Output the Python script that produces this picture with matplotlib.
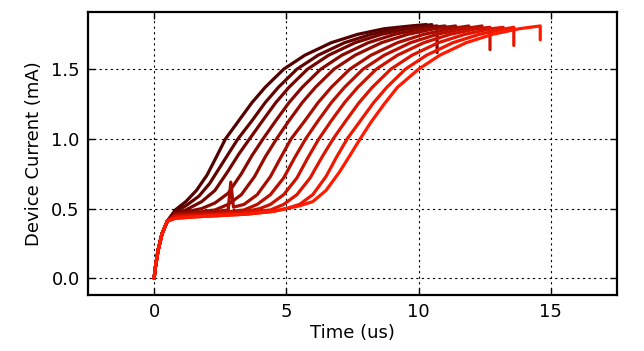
import numpy as np
import matplotlib
matplotlib.use('Agg')
import matplotlib.pyplot as plt

# common fast onset (all traces overlap here)
onset_t = [0.0, 0.05, 0.15, 0.3, 0.5]
onset_i = [0.0, 0.08, 0.20, 0.32, 0.41]

# per-trace data after the onset, darkest (earliest switching) first
trace_t = [
    [0.8, 1.2, 1.6, 2.0, 2.3, 2.7, 3.2, 3.7, 4.2, 4.9, 5.7, 6.7, 7.7, 8.7, 9.7, 10.3],
    [0.8, 1.2, 1.7, 2.1, 2.5, 2.8, 3.17, 3.7, 4.2, 4.7, 5.4, 6.2, 7.2, 8.2, 9.2, 10.2, 10.5],
    [0.8, 1.2, 1.8, 2.3, 2.8, 3.2, 3.61, 4.1, 4.6, 5.1, 5.8, 6.6, 7.6, 8.6, 9.6, 10.7, 10.7],
    [0.8, 1.3, 1.8, 2.3, 2.8, 3.3, 3.7, 4.12, 4.6, 5.1, 5.6, 6.3, 7.1, 8.1, 9.1, 10.1, 11.0],
    [0.8, 1.5, 2.3, 2.8, 3.3, 3.8, 4.2, 4.63, 5.1, 5.6, 6.1, 6.8, 7.6, 8.6, 9.6, 10.6, 11.4],
    [0.8, 1.5, 2.4, 2.8, 2.9, 3.0, 3.4, 3.9, 4.4, 4.8, 5.18, 5.7, 6.2, 6.7, 7.4, 8.2, 9.2, 10.2, 11.2, 11.9],
    [0.8, 1.5, 2.5, 3.4, 3.9, 4.4, 4.9, 5.3, 5.73, 6.2, 6.7, 7.2, 7.9, 8.7, 9.7, 10.7, 11.7, 12.4],
    [0.8, 1.5, 2.5, 3.5, 4.0, 4.4, 4.9, 5.4, 5.8, 6.23, 6.7, 7.2, 7.7, 8.4, 9.2, 10.2, 11.2, 12.2, 12.7, 12.7],
    [0.8, 1.5, 2.5, 3.5, 4.4, 4.9, 5.4, 5.9, 6.35, 6.77, 7.25, 7.75, 8.25, 8.95, 9.75, 10.75, 11.75, 12.75, 13.2],
    [0.8, 1.5, 2.5, 3.5, 4.5, 5.0, 5.5, 6.0, 6.5, 6.9, 7.3, 7.8, 8.3, 8.8, 9.5, 10.3, 11.3, 12.3, 13.3, 13.6, 13.6],
    [0.8, 1.5, 2.5, 3.5, 4.5, 5.0, 5.5, 6.0, 6.5, 7.0, 7.4, 7.79, 8.2, 8.7, 9.2, 10.0, 10.8, 11.8, 12.8, 13.8, 14.6, 14.6],
]
trace_i = [
    [0.49, 0.55, 0.63, 0.74, 0.85, 1.0, 1.13, 1.26, 1.37, 1.50, 1.60, 1.69, 1.75, 1.79, 1.81, 1.82],
    [0.48, 0.52, 0.59, 0.68, 0.80, 0.89, 1.0, 1.13, 1.26, 1.37, 1.50, 1.60, 1.69, 1.75, 1.79, 1.81, 1.82],
    [0.47, 0.49, 0.55, 0.63, 0.77, 0.89, 1.0, 1.13, 1.26, 1.37, 1.50, 1.60, 1.69, 1.75, 1.79, 1.81, 1.62],
    [0.46, 0.48, 0.50, 0.54, 0.61, 0.75, 0.88, 1.0, 1.13, 1.26, 1.37, 1.50, 1.60, 1.69, 1.75, 1.79, 1.81],
    [0.46, 0.47, 0.49, 0.53, 0.60, 0.73, 0.87, 1.0, 1.13, 1.26, 1.37, 1.50, 1.60, 1.69, 1.75, 1.79, 1.81],
    [0.45, 0.46, 0.48, 0.49, 0.69, 0.51, 0.53, 0.60, 0.73, 0.87, 1.0, 1.13, 1.26, 1.37, 1.50, 1.60, 1.69, 1.75, 1.79, 1.81],
    [0.45, 0.46, 0.47, 0.49, 0.53, 0.60, 0.72, 0.86, 1.0, 1.13, 1.26, 1.37, 1.50, 1.60, 1.69, 1.75, 1.79, 1.81],
    [0.44, 0.45, 0.46, 0.48, 0.50, 0.53, 0.60, 0.72, 0.86, 1.0, 1.13, 1.26, 1.37, 1.50, 1.60, 1.69, 1.75, 1.79, 1.80, 1.64],
    [0.44, 0.45, 0.46, 0.47, 0.49, 0.53, 0.60, 0.72, 0.87, 1.0, 1.13, 1.26, 1.37, 1.50, 1.60, 1.69, 1.75, 1.79, 1.80],
    [0.43, 0.44, 0.45, 0.46, 0.48, 0.50, 0.53, 0.60, 0.73, 0.87, 1.0, 1.13, 1.26, 1.37, 1.50, 1.60, 1.69, 1.75, 1.79, 1.80, 1.67],
    [0.43, 0.44, 0.45, 0.46, 0.48, 0.50, 0.52, 0.55, 0.63, 0.76, 0.88, 1.0, 1.12, 1.25, 1.37, 1.50, 1.60, 1.69, 1.75, 1.79, 1.81, 1.71],
]

x_ticks = [0, 5, 10, 15]
y_ticks = [0.0, 0.5, 1.0, 1.5]

fig = plt.figure(figsize=(6.44, 3.51), dpi=100)
ax = fig.add_axes([0.1366, 0.1595, 0.8214, 0.8063])

n = len(trace_t)
dark = np.array([0.32, 0.0, 0.0])
bright = np.array([1.0, 0.1, 0.0])
for k in range(n):
    f = k / (n - 1)
    col = dark + (bright - dark) * f
    t = onset_t + trace_t[k]
    i = onset_i + trace_i[k]
    ax.plot(t, i, color=col, lw=2.3, solid_joinstyle='round', solid_capstyle='round')

ax.set_xlim(-2.5, 17.5)
ax.set_ylim(-0.12, 1.91)
ax.set_xticks(x_ticks)
ax.set_yticks(y_ticks)
ax.set_xticklabels([str(v) for v in x_ticks])
ax.set_yticklabels(['%.1f' % v for v in y_ticks])
ax.grid(True, color='black', linestyle=(0, (2, 3)), linewidth=0.8)
ax.tick_params(direction='in', length=5, width=1, top=True, right=True, labelsize=13, pad=6)
for s in ax.spines.values():
    s.set_linewidth(1.6)

ax.set_xlabel('Time (us)', fontsize=13, labelpad=2)
ax.set_ylabel('Device Current (mA)', fontsize=13, labelpad=6)

fig.savefig('out.png', dpi=100)
